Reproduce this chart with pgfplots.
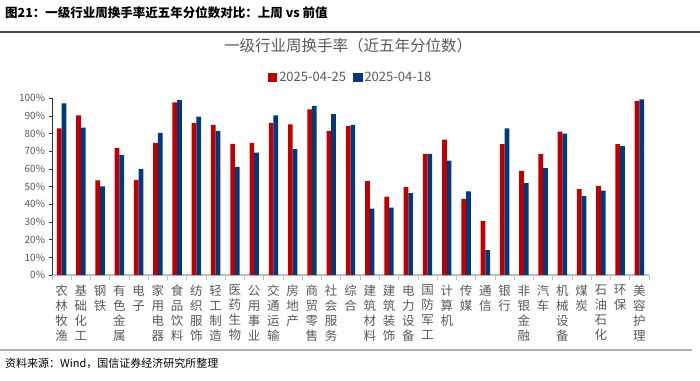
\documentclass[border=0pt]{standalone}
\usepackage{pgfplots}
\pgfplotsset{compat=1.18}
\usepackage{fontspec}
\setmainfont{Noto Sans CJK SC}
\definecolor{cred}{HTML}{C00000}
\definecolor{cblue}{HTML}{003A7D}
\definecolor{txt}{HTML}{595959}
\begin{document}
\begin{tikzpicture}
\useasboundingbox (0pt,0pt) rectangle (700pt,-380pt);
\node[anchor=west,inner sep=0pt,font=\fontsize{12.5}{13}\selectfont\bfseries] at (5pt,-13pt) {图21：一级行业周换手率近五年分位数对比：上周 vs 前值};
\draw[line width=1.5pt, black!70] (0pt,-32pt) -- (700pt,-32pt);
\node[font=\fontsize{15.5}{16}\selectfont, text=txt] at (348pt,-46pt) {一级行业周换手率（近五年分位数）};
\begin{axis}[
  width=597pt, height=176.7pt, scale only axis,
  at={(52pt,-275pt)}, anchor=south west,
  ybar=0pt, bar width=4.7pt,
  xmin=-0.5, xmax=30.5, ymin=0, ymax=100,
  xtick={0,...,30},
  xticklabels={农\\林\\牧\\渔, 基\\础\\化\\工, 钢\\铁, 有\\色\\金\\属, 电\\子, 家\\用\\电\\器, 食\\品\\饮\\料, 纺\\织\\服\\饰, 轻\\工\\制\\造, 医\\药\\生\\物, 公\\用\\事\\业, 交\\通\\运\\输, 房\\地\\产, 商\\贸\\零\\售, 社\\会\\服\\务, 综\\合, 建\\筑\\材\\料, 建\\筑\\装\\饰, 电\\力\\设\\备, 国\\防\\军\\工, 计\\算\\机, 传\\媒, 通\\信, 银\\行, 非\\银\\金\\融, 汽\\车, 机\\械\\设\\备, 煤\\炭, 石\\油\\石\\化, 环\\保, 美\\容\\护\\理},
  minor xtick={-0.5,0.5,...,30.5},
  major x tick style={draw=none},
  minor x tick style={gray!50, line width=0.8pt},
  minor tick length=5pt,
  major tick length=3.5pt,
  tick align=outside,
  ytick={0,10,...,100},
  /pgf/number format/assume math mode=true,
  yticklabel={\pgfmathprintnumber{\tick}\%},
  axis x line*=bottom, axis y line*=left,
  x axis line style={gray!50, line width=1.5pt},
  y axis line style={black!80, line width=1pt},
  y tick style={black!80, line width=0.8pt},
  yticklabel style={font=\fontsize{10}{12}\selectfont, text=txt},
  xticklabel style={align=center, font=\fontsize{12.5}{15}\selectfont, text=txt, anchor=north, yshift=-3pt},
  legend style={at={(0.5,1.118)}, anchor=center, draw=none, fill=none, legend columns=2,
    font=\fontsize{13}{14}\selectfont, text=txt,
    /tikz/every even column/.append style={column sep=5pt}},
]
\addplot[fill=cred, draw=none, legend image code/.code={\fill[cred] (0pt,-4.8pt) rectangle (9.5pt,4.8pt);}] coordinates {
(0,83.0) (1,90.4) (2,53.5) (3,71.9) (4,53.9) (5,74.8) (6,97.7) (7,86.1) (8,84.9) (9,74.2)
(10,74.8) (11,86.1) (12,85.3) (13,93.8) (14,81.5) (15,84.2) (16,53.1) (17,44.3) (18,49.7) (19,68.5)
(20,76.6) (21,43.1) (22,30.7) (23,74.0) (24,58.9) (25,68.5) (26,81.2) (27,48.6) (28,50.5) (29,74.0) (30,98.5)};
\addlegendentry{2025-04-25}
\addplot[fill=cblue, draw=none, legend image code/.code={\fill[cblue] (0pt,-4.8pt) rectangle (9.5pt,4.8pt);}] coordinates {
(0,97.2) (1,83.4) (2,50.1) (3,67.8) (4,60.1) (5,80.4) (6,98.9) (7,89.6) (8,81.5) (9,61.2)
(10,69.3) (11,90.4) (12,71.2) (13,95.7) (14,91.1) (15,84.9) (16,37.5) (17,38.2) (18,46.3) (19,68.5)
(20,64.8) (21,47.3) (22,14.1) (23,83.0) (24,52.0) (25,60.5) (26,80.0) (27,44.6) (28,47.8) (29,72.9) (30,99.4)};
\addlegendentry{2025-04-18}
\end{axis}
\draw[line width=1.5pt, gray!60] (0pt,-350pt) -- (692pt,-350pt);
\node[anchor=west, inner sep=0pt, font=\fontsize{11}{12}\selectfont] at (5pt,-363pt) {资料来源：Wind，国信证券经济研究所整理};
\end{tikzpicture}
\end{document}
